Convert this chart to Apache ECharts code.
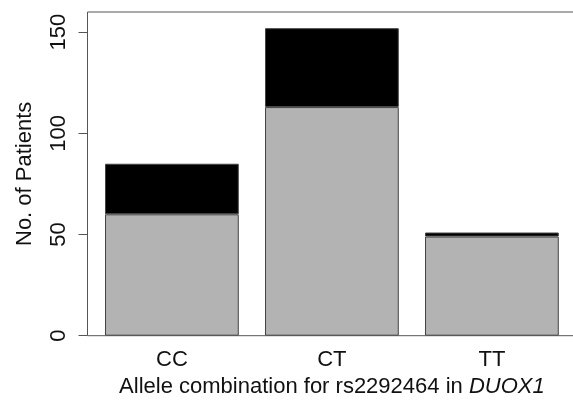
<!DOCTYPE html>
<html>
<head>
<meta charset="utf-8">
<script src="https://cdn.jsdelivr.net/npm/echarts@6/dist/echarts.min.js"></script>
<style>
  html, body { margin: 0; padding: 0; background: #fff; }
  #chart { width: 573px; height: 403px; }
</style>
</head>
<body>
<div id="chart"></div>
<script>
// genotype groups and patient counts
var categories = ['CC', 'CT', 'TT'];
var lowerCounts = [60, 113, 49];   // grey part
var upperCounts = [25, 39, 2];     // black part on top
var yTicks = [0, 50, 100, 150];

var font = '"Liberation Sans", Arial, sans-serif';
var ink = '#111';
var chart = echarts.init(document.getElementById('chart'));

var option = {
  animation: false,
  grid: [
    // plotting area for the bars
    { left: 91.9, width: 480, top: 12, bottom: 67.3, outerBoundsMode: 'none' },
    // R style box round the plot (a little wider than the bars' range)
    { left: 87.5, right: -5, top: 12, bottom: 67.3, outerBoundsMode: 'none',
      show: true, borderColor: '#555', borderWidth: 1 }
  ],
  xAxis: [
    {
      type: 'category', gridIndex: 0,
      data: categories,
      axisLine: { show: false },
      axisTick: { show: false },
      axisLabel: { margin: 13, fontFamily: font, fontSize: 22, color: ink },
      name: 'Allele combination for rs2292464 in {i|DUOX1}',
      nameLocation: 'middle',
      nameGap: 38,
      nameTextStyle: {
        fontFamily: font, fontSize: 22, color: ink,
        rich: { i: { fontFamily: font, fontSize: 22, fontStyle: 'italic', color: ink } }
      }
    },
    { type: 'value', gridIndex: 1, show: false, min: 0, max: 1 }
  ],
  yAxis: [
    { type: 'value', gridIndex: 0, show: false, min: 0, max: 160 },
    {
      type: 'value', gridIndex: 1,
      min: 0, max: 160,
      splitLine: { show: false },
      axisLine: { show: false },
      axisTick: {
        show: true, length: 9, customValues: yTicks,
        lineStyle: { color: '#555', width: 1 }
      },
      axisLabel: {
        customValues: yTicks,
        rotate: 90,
        margin: 18,
        fontFamily: font, fontSize: 22, color: ink
      },
      name: 'No. of Patients',
      nameLocation: 'middle',
      nameGap: 52,
      nameTextStyle: { fontFamily: font, fontSize: 22, color: ink }
    }
  ],
  series: [
    {
      name: 'lower', type: 'bar', stack: 'total',
      xAxisIndex: 0, yAxisIndex: 0,
      barCategoryGap: '16.4%',
      itemStyle: { color: '#b3b3b3', borderColor: '#444', borderWidth: 1 },
      data: lowerCounts
    },
    {
      name: 'upper', type: 'bar', stack: 'total',
      xAxisIndex: 0, yAxisIndex: 0,
      barCategoryGap: '16.4%',
      itemStyle: { color: '#000', borderColor: '#444', borderWidth: 1 },
      data: upperCounts
    }
  ]
};

chart.setOption(option);
</script>
</body>
</html>
